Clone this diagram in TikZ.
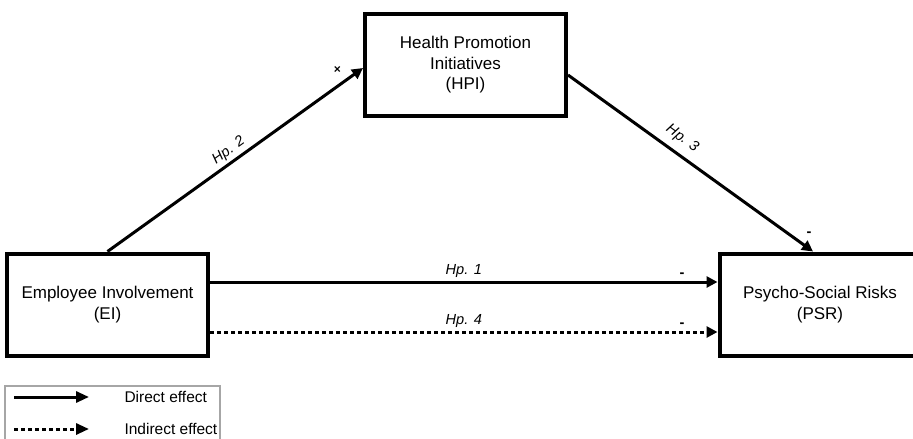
\documentclass[tikz,border=0pt]{standalone}
\usepackage{fontspec}
\setmainfont{Liberation Sans}
\usepackage{tikz}
\usetikzlibrary{arrows.meta, positioning}

\begin{document}
\begin{tikzpicture}[x=1pt, y=-1pt]
% Define styles
\tikzstyle{construct} = [rectangle, minimum width=201pt, minimum height=102pt, align=center, draw=black, line width=4pt, font=\fontsize{17}{20.5}\selectfont]
\tikzstyle{direct} = [line width=3pt, -{Triangle[length=11pt, width=11pt]}]
\tikzstyle{indirect} = [direct, dash pattern=on 4pt off 3pt]
\tikzstyle{hyp} = [font=\fontsize{14.6}{16}\selectfont\itshape, inner sep=3pt]
\tikzstyle{sign} = [font=\fontsize{14.6}{16}\selectfont\bfseries, inner sep=3pt]
\tikzstyle{legendtext} = [anchor=west, font=\fontsize{15.5}{18}\selectfont]
\useasboundingbox (0,0) rectangle (913,439);
% Place nodes
\node (hpi) [construct] at (465.5,65) {Health Promotion\\Initiatives\\(HPI)};
\node (ei) [construct] at (107.5,304.5) {Employee Involvement\\(EI)};
\node (psr) [construct] at (820,304.5) {Psycho-Social Risks\\(PSR)};
% Draw arrows
\draw [direct] (ei.north) -- node[hyp, pos=0.5, above, sloped] {Hp. 2} node[sign, pos=0.9, above=8pt] {\fontsize{12}{12}\selectfont×} ([yshift=-3pt]hpi.west);
\draw [direct] ([yshift=-10pt]hpi.east) -- node[hyp, pos=0.43, above=4pt, sloped] {Hp. 3} node[sign, pos=0.95, above right=2pt] {-} ([xshift=-7pt]psr.north);
\draw [direct] ([yshift=22.5pt]ei.east) -- node[hyp, pos=0.5, above] {Hp. 1} node[sign, pos=0.93, above] {-} ([yshift=22.5pt]psr.west);
\draw [indirect] ([yshift=-27.5pt]ei.east) -- node[hyp, pos=0.5, above] {Hp. 4} node[sign, pos=0.93, above] {-} ([yshift=-27.5pt]psr.west);
% Legend
\draw [gray!70, line width=1.2pt] (5,386) rectangle (220,442);
\coordinate (da) at (14,397);
\coordinate (db) at (89,397);
\coordinate (ia) at (14,429);
\coordinate (ib) at (89,429);
\draw [direct, -{Triangle[length=13pt, width=11pt]}] (da) -- (db);
\draw [indirect, -{Triangle[length=13pt, width=11pt]}] (ia) -- (ib);
\node (directlbl) [legendtext] at (121,397) {Direct effect};
\node (indirectlbl) [legendtext] at (121,429) {Indirect effect};
\end{tikzpicture}
\end{document}
